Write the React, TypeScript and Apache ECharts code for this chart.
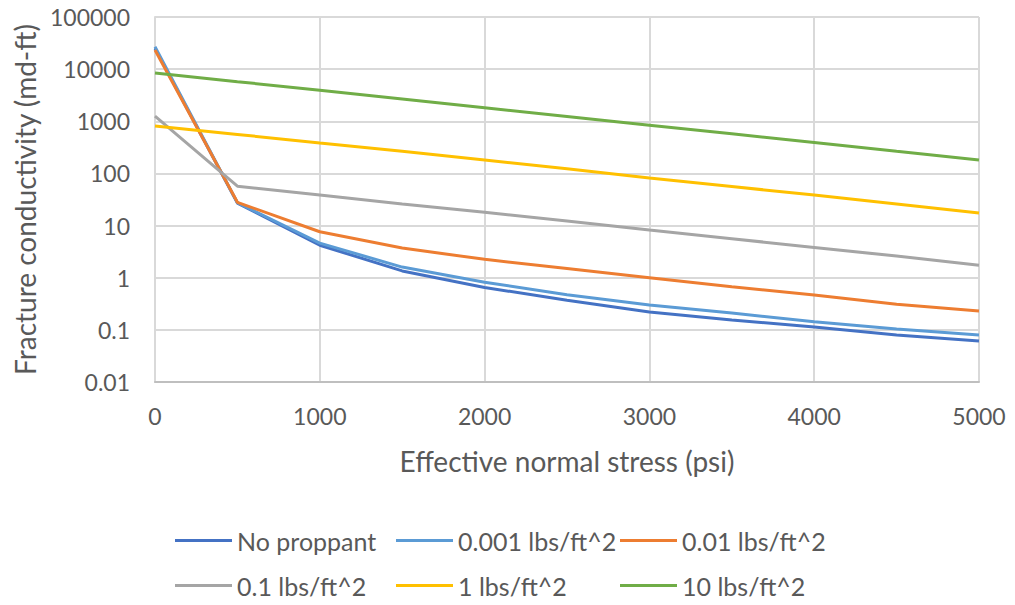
import React, { useEffect, useRef } from "react";
import * as echarts from "echarts";

const stress = [0, 500, 1000, 1500, 2000, 2500, 3000, 3500, 4000, 4500, 5000];
const seriesNames = ["No proppant", "0.001 lbs/ft^2", "0.01 lbs/ft^2", "0.1 lbs/ft^2", "1 lbs/ft^2", "10 lbs/ft^2"];
const noProppant = [25000, 27, 4.2, 1.35, 0.65, 0.37, 0.22, 0.155, 0.113, 0.08, 0.061];
const p0001 = [26900, 27.5, 4.6, 1.6, 0.82, 0.47, 0.3, 0.21, 0.143, 0.104, 0.08];
const p001 = [23300, 27.9, 7.6, 3.7, 2.25, 1.5, 1.0, 0.67, 0.466, 0.31, 0.23];
const p01 = [1260, 57, 38.5, 26, 18, 12.2, 8.2, 5.6, 3.8, 2.6, 1.73];
const p1 = [811, 560, 383, 265, 181, 123, 82, 56, 38.5, 26, 17.4];
const p10 = [8400, 5750, 3950, 2680, 1810, 1230, 840, 575, 390, 265, 181];
const colors = ["#4472C4", "#5B9BD5", "#ED7D31", "#A5A5A5", "#FFC000", "#70AD47"];
const allValues = [noProppant, p0001, p001, p01, p1, p10];

const FONT = "Lato";
const TEXT = "#595959";

// legend positions (3 columns, 2 rows)
const legendLefts = [175, 396, 620, 175, 396, 620];
const legendTops = [528, 528, 528, 573, 573, 573];

export default function App() {
  const ref = useRef<HTMLDivElement>(null);
  useEffect(() => {
    if (!ref.current) return;
    const chart = echarts.init(ref.current, undefined, { renderer: "svg" });
    const series = allValues.map((vals, i) => ({
      name: seriesNames[i],
      type: "line",
      data: stress.map((s, j) => [s, vals[j]]),
      showSymbol: false,
      symbol: "none",
      smooth: false,
      lineStyle: { color: colors[i], width: 3 },
      itemStyle: { color: colors[i] },
    }));
    const legends = seriesNames.map((n, i) => ({
      data: [n],
      left: legendLefts[i],
      top: legendTops[i],
      icon: "rect",
      itemWidth: 57,
      itemHeight: 3,
      itemGap: 0,
      padding: 0,
      textStyle: { color: TEXT, fontSize: 25, fontFamily: FONT },
    }));
    chart.setOption({
      animation: false,
      backgroundColor: "#ffffff",
      color: colors,
      grid: { left: 155, right: 36, top: 17, bottom: 223, containLabel: false },
      legend: legends,
      xAxis: {
        type: "value",
        min: 0,
        max: 5000,
        interval: 1000,
        name: "Effective normal stress (psi)",
        nameLocation: "middle",
        nameGap: 65,
        nameTextStyle: { color: TEXT, fontSize: 28, fontFamily: FONT },
        axisLine: { show: true, lineStyle: { color: "#bfbfbf", width: 2 } },
        axisTick: { show: false },
        axisLabel: {
          color: TEXT,
          fontSize: 23,
          fontFamily: FONT,
          margin: 22,
          formatter: (v: number) => String(v),
        },
        splitLine: { show: true, lineStyle: { color: "#d9d9d9", width: 2 } },
      },
      yAxis: {
        type: "log",
        logBase: 10,
        min: 0.01,
        max: 100000,
        name: "Fracture conductivity (md-ft)",
        nameLocation: "middle",
        nameGap: 116,
        nameTextStyle: { color: TEXT, fontSize: 28, fontFamily: FONT },
        axisLine: { show: true, lineStyle: { color: "#d9d9d9", width: 2 } },
        axisTick: { show: false },
        axisLabel: {
          color: TEXT,
          fontSize: 23,
          fontFamily: FONT,
          margin: 25,
          formatter: (v: number) => String(parseFloat(v.toPrecision(6))),
        },
        splitLine: { show: true, lineStyle: { color: "#d9d9d9", width: 2 } },
      },
      series,
    });
    return () => chart.dispose();
  }, []);
  return (
    <div
      ref={ref}
      style={{ position: "fixed", left: 0, top: 0, width: 1015, height: 605, background: "#fff" }}
    />
  );
}
